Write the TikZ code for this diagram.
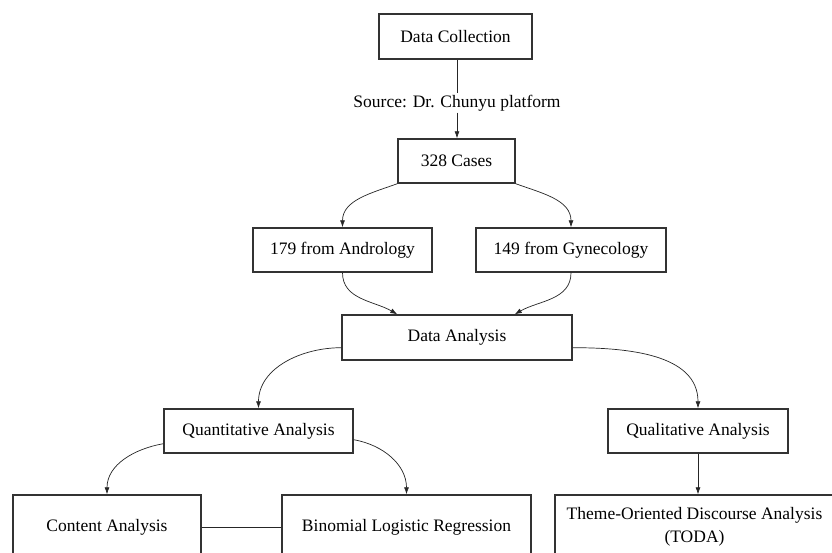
\documentclass[tikz,border=0pt]{standalone}
\usepackage{fontspec}
\setmainfont{Liberation Serif}
\usetikzlibrary{arrows.meta,calc}
\begin{document}
\begin{tikzpicture}[x=1pt,y=1pt,
  box/.style={draw=black!80,line width=1.4pt,inner sep=0pt,align=center,
    font=\fontsize{17.5}{23}\selectfont},
  conn/.style={draw=black!85,line width=0.7pt},
  arr/.style={conn,-{Latex[length=7pt,width=5pt]}}]
\clip (0,0) rectangle (832,552);
\fill[white] (0,0) rectangle (832,552);
\node[box,minimum width=153pt,minimum height=45pt] (dc) at (455.5,515.5) {Data Collection};
\node[inner sep=1.5pt,font=\fontsize{17.5}{21}\selectfont] (src) at (457,449) {Source: Dr. Chunyu platform};
\node[box,minimum width=117pt,minimum height=44pt] (cases) at (456.5,391) {328 Cases};
\node[box,minimum width=179pt,minimum height=44pt] (andro) at (342.5,302) {179 from Andrology};
\node[box,minimum width=190pt,minimum height=44pt] (gyne) at (571,302) {149 from Gynecology};
\node[box,minimum width=230pt,minimum height=45pt] (da) at (457,214.5) {Data Analysis};
\node[box,minimum width=189pt,minimum height=44pt] (quant) at (258.5,121) {Quantitative Analysis};
\node[box,minimum width=180pt,minimum height=44pt] (qual) at (698,121) {Qualitative Analysis};
\node[box,minimum width=188pt,minimum height=64pt] (content) at (107,25) {Content Analysis};
\node[box,minimum width=249pt,minimum height=64pt] (binom) at (406.5,25) {Binomial Logistic Regression};
\node[box,minimum width=279pt,minimum height=64pt] (toda) at (694.5,25) {Theme-Oriented Discourse Analysis\\(TODA)};
% connectors
\draw[conn] (dc.south -| src.north) -- (src.north);
\draw[arr] (src.south) -- (src.south |- cases.north);
\draw[arr] (cases.south west) to[out=200,in=90] (andro.north);
\draw[arr] (cases.south east) to[out=-20,in=90] (gyne.north);
\draw[arr] (andro.south) to[out=-90,in=150] ($(da.north west)+(56,0)$);
\draw[arr] (gyne.south) to[out=-90,in=30] ($(da.north east)+(-58,0)$);
\draw[arr] ($(da.south west)+(0,13)$) to[out=180,in=90] (quant.north);
\draw[arr] ($(da.south east)+(0,13)$) to[out=0,in=90] (qual.north);
\draw[arr] ($(quant.south west)+(0,10)$) to[out=190,in=90] (content.north);
\draw[arr] ($(quant.south east)+(0,14)$) to[out=-10,in=90] (binom.north);
\draw[arr] (qual.south) -- (qual.south |- toda.north);
\draw[conn] (content.east) -- (binom.west);
\end{tikzpicture}
\end{document}
